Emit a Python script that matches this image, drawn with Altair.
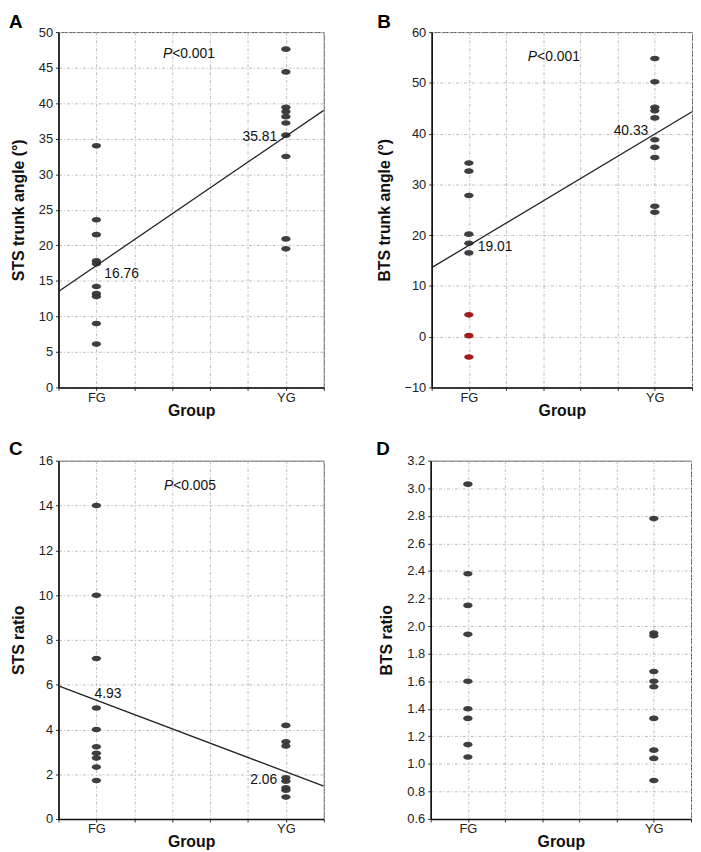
import altair as alt
import pandas as pd

FONT = "Liberation Sans"

# ---- data ----
groups = ["FG", "YG"]
x_ticks = [0.8, 1.0, 1.2, 1.4, 1.6, 1.8, 2.0, 2.2]

a_fg = [34.0, 23.6, 21.5, 17.8, 17.4, 14.2, 13.2, 12.8, 9.0, 6.1]
a_yg = [47.6, 44.4, 39.4, 38.8, 38.1, 37.2, 35.5, 32.5, 20.9, 19.5]
a_line = [13.5, 39.0]

b_fg = [34.2, 32.6, 27.8, 20.2, 18.4, 16.5]
b_fg_red = [4.3, 0.2, -4.0]
b_yg = [54.8, 50.2, 45.2, 44.5, 43.1, 38.8, 37.3, 35.3, 25.7, 24.5]
b_line = [13.6, 44.3]

c_fg = [14.0, 9.99, 7.17, 4.96, 4.0, 3.23, 2.94, 2.72, 2.32, 1.72]
c_yg = [4.18, 3.45, 3.26, 1.84, 1.69, 1.39, 1.29, 0.98]
c_line = [5.95, 1.47]

d_fg = [3.03, 2.38, 2.15, 1.94, 1.60, 1.40, 1.33, 1.14, 1.05]
d_yg = [2.78, 1.95, 1.93, 1.67, 1.60, 1.56, 1.33, 1.10, 1.04, 0.88]

line_x = [0.8, 2.2]

ELLIPSE = "M-1,0 A1,0.6 0 1,1 1,0 A1,0.6 0 1,1 -1,0 Z"


def panel(letter, fg, yg, ydom, yvals, yfmt, ytitle, width, height,
          title_pad, letter_xy, red=None, line=None, ptext=None,
          mean_left=None, mean_right=None):
    rows = ([{"x": 1.0, "y": v, "c": "k"} for v in fg]
            + [{"x": 2.0, "y": v, "c": "k"} for v in yg])
    if red:
        rows += [{"x": 1.0, "y": v, "c": "r"} for v in red]
    df = pd.DataFrame(rows)
    xs = alt.Scale(domain=[0.8, 2.2], nice=False, zero=False)
    ys = alt.Scale(domain=ydom, nice=False, zero=False)
    xaxis = alt.Axis(values=x_ticks, title="Group",
                     labelExpr="abs(datum.value - 1) < 0.01 ? 'FG' : abs(datum.value - 2) < 0.01 ? 'YG' : ''",
                     grid=True, tickSize=3, labelPadding=1, titlePadding=-2,
                     labelFlush=False, labelOverlap=False)
    yaxis = alt.Axis(values=yvals, title=ytitle, format=yfmt, grid=True,
                     tickSize=3, labelPadding=3, titlePadding=title_pad,
                     labelOverlap=False)
    X = alt.X("x:Q", scale=xs, axis=xaxis)
    Y = alt.Y("y:Q", scale=ys, axis=yaxis)
    pts = alt.Chart(df).mark_point(shape=ELLIPSE, filled=True, size=90,
                                   opacity=0.95).encode(
        x=X, y=Y,
        color=alt.Color("c:N", scale=alt.Scale(domain=["k", "r"],
                                               range=["#353535", "#9e1010"]),
                        legend=None),
    )
    layers = [pts]
    if line:
        ldf = pd.DataFrame({"x": line_x, "y": line})
        layers.append(alt.Chart(ldf).mark_line(color="#222222", strokeWidth=1.3,
                                               clip=True).encode(x=X, y=Y))
    if ptext:
        px, py, ptxt = ptext
        pdf = pd.DataFrame({"x": [px], "y": [py]})
        layers.append(alt.Chart(pdf).mark_text(text="P", font=FONT, fontSize=14,
                                               fontStyle="italic", align="right",
                                               color="#111").encode(x=X, y=Y))
        layers.append(alt.Chart(pdf).mark_text(text=ptxt, font=FONT, fontSize=14,
                                               align="left", color="#111").encode(x=X, y=Y))
    if mean_left:
        mx, my, mt = mean_left
        mdf = pd.DataFrame({"x": [mx], "y": [my], "t": [mt]})
        layers.append(alt.Chart(mdf).mark_text(font=FONT, fontSize=14, align="left",
                                               color="#111").encode(x=X, y=Y, text="t:N"))
    if mean_right:
        mx, my, mt = mean_right
        mdf = pd.DataFrame({"x": [mx], "y": [my], "t": [mt]})
        layers.append(alt.Chart(mdf).mark_text(font=FONT, fontSize=14, align="right",
                                               color="#111").encode(x=X, y=Y, text="t:N"))
    tdf = pd.DataFrame({"t": [letter]})
    layers.append(alt.Chart(tdf).mark_text(font=FONT, fontSize=19, fontWeight="bold",
                                           align="left", baseline="alphabetic",
                                           color="#000").encode(
        x=alt.value(letter_xy[0]), y=alt.value(letter_xy[1]), text="t:N"))
    return alt.layer(*layers).properties(width=width, height=height)


A = panel("A", a_fg, a_yg, [0, 50], list(range(0, 51, 5)), "d", "STS trunk angle (°)",
          268, 359, 12, (-50, -4), line=a_line, ptext=(1.40, 46.9, "<0.001"),
          mean_left=(1.042, 15.9, "16.76"), mean_right=(1.954, 35.3, "35.81"))
B = panel("B", b_fg, b_yg, [-10, 60], list(range(-10, 61, 10)), "d", "BTS trunk angle (°)",
          263, 359, 12, (-55, -4), red=b_fg_red, line=b_line,
          ptext=(1.367, 55.1, "<0.001"),
          mean_left=(1.048, 17.6, "19.01"), mean_right=(1.965, 40.6, "40.33"))
C = panel("C", c_fg, c_yg, [0, 16], list(range(0, 17, 2)), "d", "STS ratio",
          268, 362, 12, (-50, -6), line=c_line, ptext=(1.405, 14.87, "<0.005"),
          mean_left=(0.99, 5.58, "4.93"), mean_right=(1.954, 1.76, "2.06"))
D = panel("D", d_fg, d_yg, [0.6, 3.2], [round(0.6 + 0.2 * i, 1) for i in range(14)], ".1f",
          "BTS ratio", 263, 362, 13, (-55, -6))

chart = alt.vconcat(
    alt.hconcat(A, B, spacing=51),
    alt.hconcat(C, D, spacing=51),
    spacing=20,
).properties(
    padding=0
).configure_view(
    stroke="#555555", strokeWidth=1
).configure_axis(
    labelFont=FONT, titleFont=FONT, labelFontSize=13, titleFontSize=16,
    titleFontWeight="bold", labelColor="#222222", titleColor="#111111",
    domainColor="#111111", domainWidth=1.6, tickColor="#333333",
    gridColor="#bbbbbb", gridDash=[3, 2, 1, 2], gridWidth=1,
)

chart.save("out.html", embed_options={"renderer": "svg", "actions": False})
